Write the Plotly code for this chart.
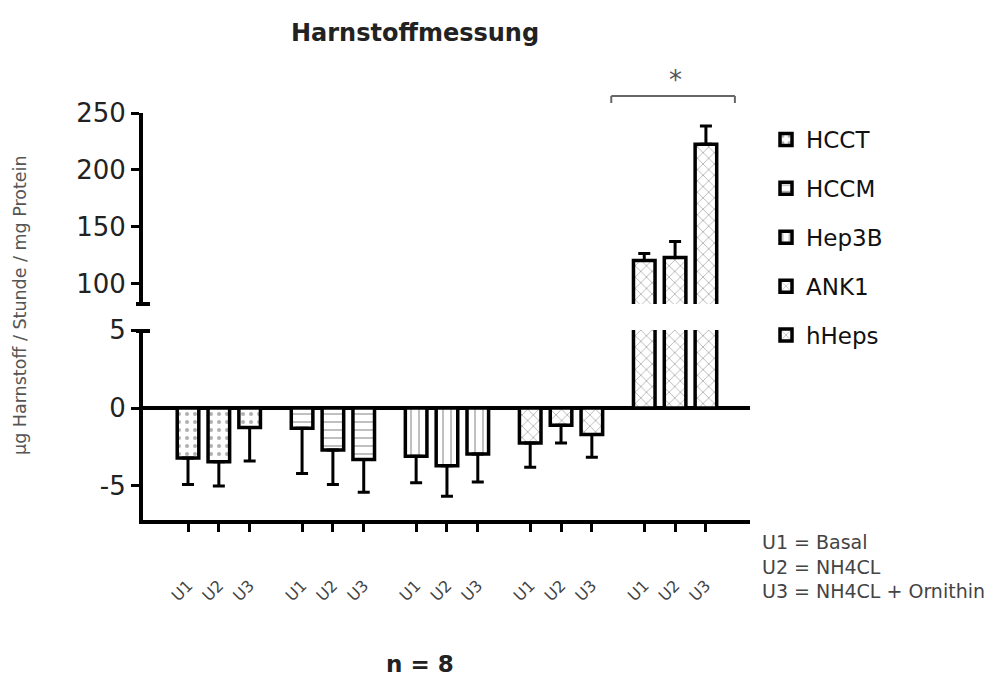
import plotly.graph_objects as go

# ---------------- data ----------------
cell_lines = ["HCCT", "HCCM", "Hep3B", "ANK1", "hHeps"]
conditions = ["U1", "U2", "U3"]
means = {
    "HCCT":  [-3.2, -3.45, -1.25],
    "HCCM":  [-1.3, -2.7, -3.3],
    "Hep3B": [-3.1, -3.7, -2.95],
    "ANK1":  [-2.25, -1.1, -1.7],
    "hHeps": [120.3, 123.0, 222.6],
}
sds = {
    "HCCT":  [1.7, 1.55, 2.15],
    "HCCM":  [2.9, 2.2, 2.1],
    "Hep3B": [1.7, 1.95, 1.8],
    "ANK1":  [1.55, 1.15, 1.45],
    "hHeps": [6.1, 14.0, 15.9],
}
patterns = {"HCCT": ".", "HCCM": "-", "Hep3B": "|", "ANK1": "x", "hHeps": "x"}
lower_ticks = [-5, 0, 5]
lower_ticktext = ["-5", "0", "5"]
upper_ticks = [100, 150, 200, 250]
title_text = "Harnstoffmessung"
ytitle_text = "µg Harnstoff / Stunde / mg Protein"
note_text = "U1 = Basal<br>U2 = NH4CL<br>U3 = NH4CL + Ornithin"
n_text = "n = 8"

# ---------------- layout helpers ----------------
GROUP_STEP = 3.7
OFF = 8                     # page body margin
W, H = 998 - OFF, 684 - OFF
FONT = "DejaVu Sans"


def fx(px):
    return (px - OFF) / W


def fy(py):
    return 1 - (py - OFF) / H


def pos(g, j):
    return g * GROUP_STEP + j


fig = go.Figure()
tickvals, ticktext = [], []
for g, name in enumerate(cell_lines):
    xs = [pos(g, j) for j in range(len(conditions))]
    tickvals += xs
    ticktext += conditions
    vals = means[name]
    err_up = [s if v > 0 else 0 for v, s in zip(vals, sds[name])]
    err_dn = [s if v < 0 else 0 for v, s in zip(vals, sds[name])]
    marker = dict(
        color="white",
        line=dict(color="black", width=3.5),
        pattern=dict(shape=patterns[name], fgcolor="#b0b0b0", bgcolor="white",
                     size=8, solidity=0.2, fillmode="replace"),
    )
    big = max(vals) > 50
    fig.add_trace(go.Bar(
        x=xs, y=vals, name=name, width=0.7, marker=marker,
        legendgroup=name, showlegend=True,
        xaxis="x", yaxis="y2" if big else "y",
        error_y=dict(type="data", symmetric=False, array=err_up, arrayminus=err_dn,
                     color="black", thickness=3, width=6),
    ))
    if big:
        # same bars seen through the lower segment of the broken axis
        fig.add_trace(go.Bar(
            x=xs, y=vals, name=name, width=0.7, marker=marker,
            legendgroup=name, showlegend=False, xaxis="x", yaxis="y",
        ))

axis_font = dict(family=FONT, size=26, color="#222")
fig.update_layout(
    template="none",
    width=W, height=H,
    margin=dict(l=0, r=0, t=0, b=0, pad=0, autoexpand=False),
    paper_bgcolor="white", plot_bgcolor="white",
    barmode="overlay",
    showlegend=True,
    legend=dict(x=fx(766), y=fy(118), xanchor="left", yanchor="top",
                font=dict(family=FONT, size=23, color="#111"),
                tracegroupgap=16, bgcolor="rgba(0,0,0,0)", borderwidth=0),
    xaxis=dict(domain=[fx(143), fx(750)], range=[-1.46, pos(4, 2) + 1.43],
               anchor="y", automargin=False,
               showline=True, linewidth=4, linecolor="black",
               showgrid=False, zeroline=False,
               tickmode="array", tickvals=tickvals, ticktext=ticktext,
               ticks="outside", ticklen=8, tickwidth=3, tickcolor="black",
               tickangle=-45, ticklabelstandoff=38,
               tickfont=dict(family=FONT, size=16, color="#444")),
    yaxis=dict(domain=[fy(520), fy(330)], range=[-7.18, 5], anchor="x",
               automargin=False,
               showline=True, linewidth=4, linecolor="black", showgrid=False,
               zeroline=True, zerolinewidth=4, zerolinecolor="black",
               tickmode="array", tickvals=lower_ticks, ticktext=lower_ticktext,
               ticks="outside", ticklen=8, tickwidth=3, tickcolor="black",
               tickfont=axis_font),
    yaxis2=dict(domain=[fy(304), fy(113)], range=[82, 250], anchor="x",
                automargin=False,
                showline=True, linewidth=4, linecolor="black", showgrid=False,
                zeroline=False,
                tickmode="array", tickvals=upper_ticks,
                ticks="outside", ticklen=8, tickwidth=3, tickcolor="black",
                tickfont=axis_font),
)

# axis-break caps
for yy in (304, 331):
    fig.add_shape(type="line", xref="paper", yref="paper",
                  x0=fx(136), x1=fx(150), y0=fy(yy), y1=fy(yy),
                  line=dict(color="black", width=4))

# significance bracket over hHeps
bx0 = pos(4, 0) - 1.07
bx1 = pos(4, 2) + 0.94
by, byl = fy(96), fy(103)
for x0, y0, x1, y1 in [(bx0, byl, bx0, by), (bx0, by, bx1, by), (bx1, by, bx1, byl)]:
    fig.add_shape(type="line", xref="x", yref="paper", x0=x0, y0=y0, x1=x1, y1=y1,
                  line=dict(color="#666", width=2))
fig.add_annotation(x=pos(4, 1), y=fy(80), xref="x", yref="paper", text="*",
                   yanchor="middle", showarrow=False,
                   font=dict(family=FONT, size=26, color="#555"))

fig.add_annotation(x=fx(415), y=fy(33), xref="paper", yref="paper", text=f"<b>{title_text}</b>",
                   xanchor="center", yanchor="middle", showarrow=False,
                   font=dict(family=FONT, size=24, color="#222"))
fig.add_annotation(x=fx(20), y=fy(305), xref="paper", yref="paper", text=ytitle_text,
                   xanchor="center", yanchor="middle",
                   textangle=-90, showarrow=False, font=dict(family=FONT, size=17.5, color="#555"))
fig.add_annotation(x=fx(760), y=fy(566), xref="paper", yref="paper", text=note_text,
                   xanchor="left", yanchor="middle", align="left", showarrow=False,
                   font=dict(family=FONT, size=19, color="#444"))
fig.add_annotation(x=fx(420), y=fy(664), xref="paper", yref="paper", text=f"<b>{n_text}</b>",
                   xanchor="center", yanchor="middle", showarrow=False,
                   font=dict(family=FONT, size=23, color="#222"))

fig.write_html("out.html")
